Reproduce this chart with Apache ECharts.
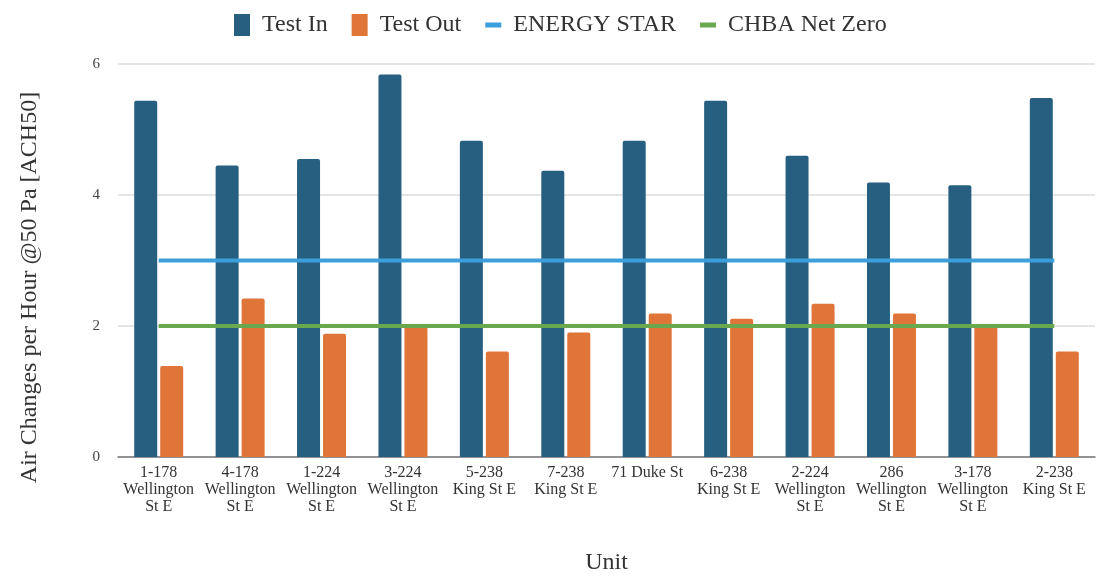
<!DOCTYPE html>
<head>
    <meta charset="utf-8">
    <title>Air Changes per Hour</title>
    <script src="https://cdn.jsdelivr.net/npm/echarts@6/dist/echarts.min.js"></script>
    <style>
        body { margin: 0; background: #fff; }
        #main { width: 1099px; height: 576px; }
    </style>
</head>
<body>
<div id="main"></div>
<script type="text/javascript">
    // units (x axis)
    var units = [
        '1-178\nWellington\nSt E', '4-178\nWellington\nSt E', '1-224\nWellington\nSt E',
        '3-224\nWellington\nSt E', '5-238\nKing St E', '7-238\nKing St E', '71 Duke St',
        '6-238\nKing St E', '2-224\nWellington\nSt E', '286\nWellington\nSt E',
        '3-178\nWellington\nSt E', '2-238\nKing St E'
    ];
    // ACH50 values
    var testIn  = [5.44, 4.45, 4.55, 5.84, 4.83, 4.37, 4.83, 5.44, 4.60, 4.19, 4.15, 5.48];
    var testOut = [1.39, 2.42, 1.88, 1.99, 1.61, 1.90, 2.19, 2.11, 2.34, 2.19, 1.99, 1.61];
    // targets
    var energyStar = [3, 3, 3, 3, 3, 3, 3, 3, 3, 3, 3, 3];
    var chbaNetZero = [2, 2, 2, 2, 2, 2, 2, 2, 2, 2, 2, 2];
    var yTicks = [0, 2, 4, 6];

    var font = 'Liberation Serif, Times New Roman, serif';
    // short bar for line legend (tiny corner dots keep the box size)
    var lineIcon = 'path://M0,0h0.05v0.05h-0.05z M0,8.5h16v5h-16z M15.95,21.95h0.05v0.05h-0.05z';

    var myChart = echarts.init(document.getElementById('main'));

    var option = {
        textStyle: { fontFamily: font },
        legend: {
            top: 8,
            left: 229,
            itemWidth: 16,
            itemHeight: 22,
            itemGap: 24,
            textStyle: { fontFamily: font, fontSize: 24, color: '#333', padding: [0, 0, 0, 7] },
            data: [
                { name: 'Test In', icon: 'rect' },
                { name: 'Test Out', icon: 'rect' },
                { name: 'ENERGY STAR', icon: lineIcon },
                { name: 'CHBA Net Zero', icon: lineIcon }
            ]
        },
        grid: { left: 118, right: 4, top: 64, bottom: 119, outerBoundsMode: 'none' },
        xAxis: {
            type: 'category',
            data: units,
            name: 'Unit',
            nameLocation: 'middle',
            nameGap: 94,
            nameTextStyle: { fontFamily: font, fontSize: 24, color: '#333' },
            axisLine: { lineStyle: { color: '#777', width: 1.5 } },
            axisTick: { show: false },
            axisLabel: {
                interval: 0,
                margin: 7,
                fontFamily: font,
                fontSize: 16,
                lineHeight: 17,
                color: '#333'
            }
        },
        yAxis: {
            type: 'value',
            min: yTicks[0],
            max: yTicks[yTicks.length - 1],
            interval: 2,
            name: 'Air Changes per Hour @50 Pa [ACH50]',
            nameLocation: 'middle',
            nameGap: 76,
            nameTextStyle: { fontFamily: font, fontSize: 24, color: '#333', padding: [0, 54, 0, 0] },
            axisLine: { show: false },
            axisTick: { show: false },
            axisLabel: { margin: 18, fontFamily: font, fontSize: 15, color: '#444' },
            splitLine: { lineStyle: { color: '#dddddd', width: 1.5 } }
        },
        series: [
            {
                name: 'Test In',
                type: 'bar',
                data: testIn,
                barWidth: 23,
                barGap: '13%',
                itemStyle: { color: '#275f80', borderRadius: [2, 2, 0, 0] }
            },
            {
                name: 'Test Out',
                type: 'bar',
                data: testOut,
                barWidth: 23,
                barGap: '13%',
                itemStyle: { color: '#e07539', borderRadius: [2, 2, 0, 0] }
            },
            {
                name: 'ENERGY STAR',
                type: 'line',
                data: energyStar,
                symbol: 'none',
                z: 5,
                itemStyle: { color: '#3c9fdb' },
                lineStyle: { color: '#3c9fdb', width: 4 }
            },
            {
                name: 'CHBA Net Zero',
                type: 'line',
                data: chbaNetZero,
                symbol: 'none',
                z: 5,
                itemStyle: { color: '#6aa84f' },
                lineStyle: { color: '#6aa84f', width: 4 }
            }
        ]
    };

    myChart.setOption(option);
</script>
</body>
